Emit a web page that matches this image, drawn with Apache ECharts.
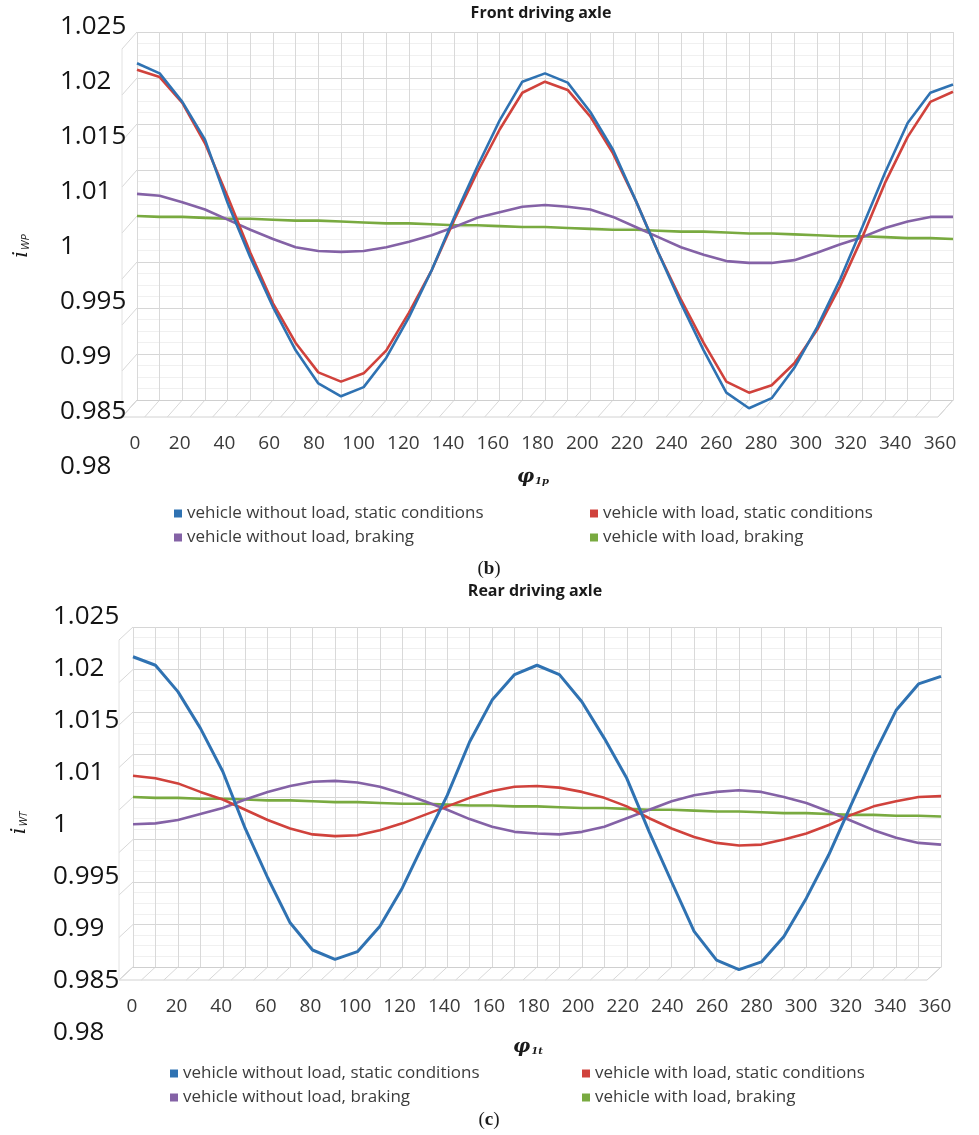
<!DOCTYPE html>
<html>
<head>
<meta charset="utf-8">
<title>Front and rear driving axle</title>
<script src="https://cdn.jsdelivr.net/npm/echarts@6/dist/echarts.min.js"></script>
<style>
  html, body { margin: 0; padding: 0; background: #fff; }
  #chart { width: 979px; height: 1135px; }
</style>
</head>
<body>
<div id="chart"></div>
<script>
// angle of rotation, deg
const angles = [0, 10, 20, 30, 40, 50, 60, 70, 80, 90, 100, 110, 120, 130, 140, 150, 160, 170, 180,
  190, 200, 210, 220, 230, 240, 250, 260, 270, 280, 290, 300, 310, 320, 330, 340, 350, 360];

// tick labels as printed on the front edge of the 3D chart
const yTickLabels = ['0.98', '0.985', '0.99', '0.995', '1', '1.01', '1.015', '1.02', '1.025'];
const wallTicks = [0.985, 0.99, 0.995, 1, 1.005, 1.01, 1.015, 1.02, 1.025];

const seriesNames = [
  'vehicle without load, static conditions',
  'vehicle with load, static conditions',
  'vehicle without load, braking',
  'vehicle with load, braking'
];
const seriesColors = ['#2f72b2', '#d0423c', '#8462a6', '#79aa40'];

// (b) front driving axle
const frontBlue = [1.0216, 1.0205, 1.0174, 1.0133, 1.0064, 1.0005, 0.9951, 0.9904, 0.9868, 0.9854, 0.9864, 0.9896, 0.9940, 0.9991, 1.0049, 1.0103, 1.0154, 1.0196, 1.0205,
  1.0195, 1.0163, 1.0122, 1.0067, 1.0010, 0.9955, 0.9904, 0.9858, 0.9841, 0.9852, 0.9885, 0.9929, 0.9980, 1.0038, 1.0097, 1.0151, 1.0184, 1.0193];
const frontRed = [1.0209, 1.0201, 1.0173, 1.0129, 1.0071, 1.0010, 0.9955, 0.9912, 0.9880, 0.9870, 0.9879, 0.9904, 0.9945, 0.9991, 1.0046, 1.0097, 1.0144, 1.0184, 1.0196,
  1.0187, 1.0158, 1.0118, 1.0067, 1.0010, 0.9959, 0.9912, 0.9870, 0.9858, 0.9866, 0.9890, 0.9926, 0.9973, 1.0027, 1.0086, 1.0136, 1.0174, 1.0185];
const frontPurple = [1.0074, 1.0072, 1.0065, 1.0057, 1.0046, 1.0035, 1.0025, 1.0016, 1.0012, 1.0011, 1.0012, 1.0016, 1.0022, 1.0029, 1.0038, 1.0048, 1.0054, 1.0060, 1.0062,
  1.0060, 1.0057, 1.0049, 1.0038, 1.0027, 1.0016, 1.0008, 1.0001, 0.9999, 0.9999, 1.0002, 1.0010, 1.0019, 1.0027, 1.0037, 1.0044, 1.0049, 1.0049];
const frontGreen = [1.0050, 1.0049, 1.0049, 1.0048, 1.0047, 1.0047, 1.0046, 1.0045, 1.0045, 1.0044, 1.0043, 1.0042, 1.0042, 1.0041, 1.0040, 1.0040, 1.0039, 1.0038, 1.0038,
  1.0037, 1.0036, 1.0035, 1.0035, 1.0034, 1.0033, 1.0033, 1.0032, 1.0031, 1.0031, 1.0030, 1.0029, 1.0028, 1.0028, 1.0027, 1.0026, 1.0026, 1.0025];

// (c) rear driving axle
const rearBlue = [1.0215, 1.0205, 1.0174, 1.0131, 1.0080, 1.0013, 0.9955, 0.9902, 0.9870, 0.9859, 0.9868, 0.9898, 0.9943, 0.9998, 1.0052, 1.0115, 1.0164, 1.0194, 1.0205,
  1.0194, 1.0162, 1.0119, 1.0072, 1.0009, 0.9950, 0.9892, 0.9858, 0.9847, 0.9856, 0.9886, 0.9931, 0.9982, 1.0041, 1.0099, 1.0152, 1.0183, 1.0192];
const rearRed = [1.0075, 1.0072, 1.0066, 1.0056, 1.0047, 1.0035, 1.0023, 1.0013, 1.0006, 1.0004, 1.0005, 1.0011, 1.0019, 1.0029, 1.0039, 1.0049, 1.0057, 1.0062, 1.0063,
  1.0061, 1.0056, 1.0049, 1.0039, 1.0025, 1.0013, 1.0003, 0.9996, 0.9993, 0.9994, 1.0000, 1.0007, 1.0017, 1.0029, 1.0039, 1.0045, 1.0050, 1.0051];
const rearPurple = [1.0018, 1.0019, 1.0023, 1.0030, 1.0037, 1.0047, 1.0056, 1.0063, 1.0068, 1.0069, 1.0067, 1.0062, 1.0054, 1.0045, 1.0035, 1.0024, 1.0015, 1.0009, 1.0007,
  1.0006, 1.0009, 1.0015, 1.0025, 1.0035, 1.0045, 1.0052, 1.0056, 1.0058, 1.0056, 1.0050, 1.0043, 1.0033, 1.0022, 1.0011, 1.0002, 0.9996, 0.9994];
const rearGreen = [1.0050, 1.0049, 1.0049, 1.0048, 1.0048, 1.0047, 1.0046, 1.0046, 1.0045, 1.0044, 1.0044, 1.0043, 1.0042, 1.0042, 1.0041, 1.0040, 1.0040, 1.0039, 1.0039,
  1.0038, 1.0037, 1.0037, 1.0036, 1.0035, 1.0035, 1.0034, 1.0033, 1.0033, 1.0032, 1.0031, 1.0031, 1.0030, 1.0029, 1.0029, 1.0028, 1.0028, 1.0027];

const FONT = 'Open Sans';
const chart = echarts.init(document.getElementById('chart'));

function pairs(vals) { return angles.map((a, i) => [a, vals[i]]); }

function lineSeries(idx, vals, axis, width) {
  return {
    name: seriesNames[idx],
    type: 'line',
    xAxisIndex: axis,
    yAxisIndex: axis,
    data: pairs(vals),
    showSymbol: false,
    symbol: 'none',
    clip: false,
    color: seriesColors[idx],
    lineStyle: { width: width || 2.6, color: seriesColors[idx] },
    z: 10 - idx
  };
}

// front plane: only labels
function labelX(grid, offset) {
  return {
    gridIndex: grid, type: 'value', min: 0, max: 360, interval: 20, offset: offset,
    axisLine: { show: false }, axisTick: { show: false }, splitLine: { show: false },
    axisLabel: { margin: 0, fontFamily: FONT, fontSize: 19, color: '#3a3a3a' }
  };
}
function labelY(grid, margin) {
  return {
    gridIndex: grid, type: 'category', boundaryGap: false, data: yTickLabels,
    axisLine: { show: false }, axisTick: { show: false }, splitLine: { show: false },
    axisLabel: { align: 'left', margin: margin, fontFamily: FONT, fontSize: 26, color: '#141414' }
  };
}
// back wall: data scale and gridlines
function wallX(grid) {
  return {
    gridIndex: grid, type: 'value', min: 0, max: 360, interval: 10,
    axisLine: { show: true, lineStyle: { color: '#cfcfcf' } }, axisTick: { show: false },
    axisLabel: { show: false },
    splitLine: { show: true, lineStyle: { color: '#d9d9d9', width: 1 } }
  };
}
function wallY(grid) {
  return {
    gridIndex: grid, type: 'value', min: 0.985, max: 1.025, interval: 0.005,
    axisLine: { show: false }, axisTick: { show: false }, axisLabel: { show: false },
    splitLine: { show: true, lineStyle: { color: '#d6d6d6', width: 1 } },
    minorTick: { show: false, splitNumber: 4 },
    minorSplitLine: { show: true, lineStyle: { color: '#f0f0f0', width: 1 } }
  };
}

function legendCol(left, top, names) {
  return {
    left: left, top: top, orient: 'vertical', itemGap: 7, icon: 'rect',
    itemWidth: 8, itemHeight: 8, selectedMode: false, data: names,
    textStyle: { fontFamily: FONT, fontSize: 17, color: '#3c3c3c' }
  };
}

function txt(id, x, y, text, rich, extra) {
  return Object.assign({
    type: 'text', id: id, x: x, y: y, silent: true,
    style: { text: text, rich: rich, align: 'center', verticalAlign: 'middle', fill: '#1a1a1a' }
  }, extra || {});
}

const yNameRich = {
  i: { fontFamily: 'DejaVu Serif', fontStyle: 'italic', fontSize: 21, fill: '#1a1a1a', verticalAlign: 'bottom' },
  s: { fontFamily: FONT, fontStyle: 'italic', fontSize: 11, fill: '#1a1a1a', verticalAlign: 'bottom', padding: [0, 0, 1, 1] }
};
const xNameRich = {
  p: { fontFamily: 'DejaVu Serif', fontStyle: 'italic', fontWeight: 'bold', fontSize: 19, fill: '#1a1a1a', verticalAlign: 'bottom' },
  s: { fontFamily: 'DejaVu Serif', fontStyle: 'italic', fontWeight: 'bold', fontSize: 10, fill: '#1a1a1a', verticalAlign: 'bottom', padding: [0, 0, 0, 1] }
};
const capRich = {
  n: { fontFamily: 'Liberation Serif', fontSize: 19, fill: '#1a1a1a' },
  b: { fontFamily: 'Liberation Serif', fontSize: 19, fontWeight: 'bold', fill: '#1a1a1a' }
};
const titleRich = {
  t: { fontFamily: FONT, fontSize: 16, fontWeight: 'bold', fill: '#1a1a1a' }
};

const option = {
  backgroundColor: '#fff',
  animation: false,
  grid: [
    { left: 135, top: 27, width: 805, height: 440 },
    { left: 137, top: 32, width: 816, height: 368 },
    { left: 132, top: 617, width: 803, height: 416 },
    { left: 133, top: 627, width: 808, height: 340 }
  ],
  xAxis: [labelX(0, -33), wallX(1), labelX(2, -36), wallX(3)],
  yAxis: [labelY(0, 75), wallY(1), labelY(2, 79), wallY(3)],
  legend: [
    legendCol(169, 500, [seriesNames[0], seriesNames[2]]),
    legendCol(585, 500, [seriesNames[1], seriesNames[3]]),
    legendCol(165, 1060, [seriesNames[0], seriesNames[2]]),
    legendCol(577, 1060, [seriesNames[1], seriesNames[3]])
  ],
  series: [
    lineSeries(0, frontBlue, 1),
    lineSeries(1, frontRed, 1),
    lineSeries(2, frontPurple, 1),
    lineSeries(3, frontGreen, 1),
    lineSeries(0, rearBlue, 3, 3),
    lineSeries(1, rearRed, 3),
    lineSeries(2, rearPurple, 3),
    lineSeries(3, rearGreen, 3)
  ],
  graphic: [
    txt('t1', 541, 13, '{t|Front driving axle}', titleRich),
    txt('t2', 535, 591, '{t|Rear driving axle}', titleRich),
    txt('yn1', 22, 246, '{i|i}{s|WP}', yNameRich, { rotation: Math.PI / 2 }),
    txt('yn2', 20, 823, '{i|i}{s|WT}', yNameRich, { rotation: Math.PI / 2 }),
    txt('xn1', 533, 477, '{p|φ}{s|1p}', xNameRich),
    txt('xn2', 528, 1047, '{p|φ}{s|1t}', xNameRich),
    txt('c1', 489, 569, '{n|(}{b|b}{n|)}', capRich),
    txt('c2', 489, 1120, '{n|(}{b|c}{n|)}', capRich)
  ]
};

chart.setOption(option);

// floor hatch and side wall edges of the 3D box, placed through the axes
function boxDecor(axis, dx, dy, prefix) {
  const els = [];
  const at = (a, v) => chart.convertToPixel({ xAxisIndex: axis, yAxisIndex: axis }, [a, v]);
  const b0 = at(0, 0.985);
  const b1 = at(360, 0.985);
  els.push({
    type: 'polyline', id: prefix + 'floor', silent: true,
    shape: { points: [b0, [b0[0] + dx, b0[1] + dy], [b1[0] + dx, b1[1] + dy], b1] },
    style: { stroke: '#d2d2d2', fill: null, lineWidth: 1 }
  });
  angles.forEach((a, i) => {
    const p = at(a, 0.985);
    els.push({
      type: 'line', id: prefix + 'h' + i, silent: true,
      shape: { x1: p[0], y1: p[1], x2: p[0] + dx, y2: p[1] + dy },
      style: { stroke: '#d8d8d8', lineWidth: 1 }
    });
  });
  wallTicks.forEach((v, i) => {
    const p = at(0, v);
    els.push({
      type: 'line', id: prefix + 's' + i, silent: true,
      shape: { x1: p[0], y1: p[1], x2: p[0] + dx, y2: p[1] + dy },
      style: { stroke: '#d8d8d8', lineWidth: 1 }
    });
  });
  const top = at(0, 1.025);
  els.push({
    type: 'line', id: prefix + 'edge', silent: true,
    shape: { x1: top[0] + dx, y1: top[1] + dy, x2: b0[0] + dx, y2: b0[1] + dy },
    style: { stroke: '#e2e2e2', lineWidth: 1 }
  });
  return els;
}

chart.setOption({ graphic: boxDecor(1, -15, 17, 'f').concat(boxDecor(3, -14, 13, 'r')) });
</script>
</body>
</html>
